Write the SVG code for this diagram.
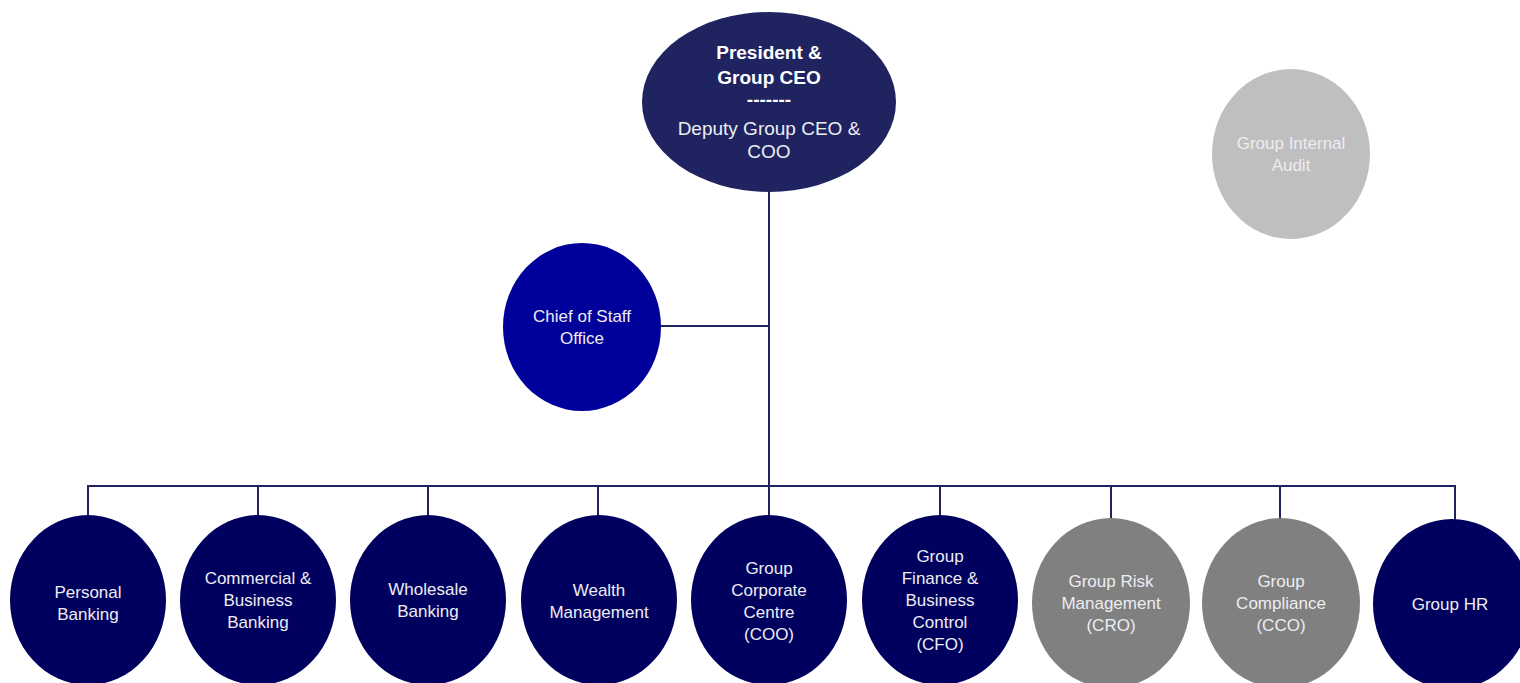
<svg xmlns="http://www.w3.org/2000/svg" width="1520" height="683" viewBox="0 0 1520 683">
<style>
.t{font-family:"Liberation Sans",Arial,sans-serif;font-size:17px;fill:#EDEDF2;text-anchor:middle}
.b{font-weight:bold;font-size:19px;fill:#FFFFFF}
.h{font-size:19px}
.dk{fill:#00005E}
.gr{fill:#808080}
.ln{stroke:#1F2461;stroke-width:2;fill:none}
</style>
<rect width="1520" height="683" fill="#FFFFFF"/>
<g id="connectors">
<path class="ln" d="M769 192V486M661 326H769M88 486H1455M88 485V517M258 485V517M428 485V517M598 485V517M769 485V517M940 485V517M1111 485V519M1280 485V519M1455 485V520"/>
</g>
<g id="ceo">
<ellipse cx="769" cy="102" rx="127" ry="90" fill="#1F2461"/>
<text class="t b" x="769" y="59">President &amp;</text>
<text class="t b" x="769" y="84">Group CEO</text>
<text class="t b" x="769" y="106">-------</text>
<text class="t h" x="769" y="135">Deputy Group CEO &amp;</text>
<text class="t h" x="769" y="158">COO</text>
</g>
<g id="audit">
<ellipse cx="1291" cy="154" rx="79" ry="85" fill="#BFBFBF"/>
<text class="t" x="1291" y="149" fill="#F2F2F2">Group Internal</text>
<text class="t" x="1291" y="171">Audit</text>
</g>
<g id="chief-of-staff">
<ellipse cx="582" cy="327" rx="79" ry="84" fill="#00009A"/>
<text class="t" x="582" y="322">Chief of Staff</text>
<text class="t" x="582" y="344">Office</text>
</g>
<g id="personal-banking">
<ellipse class="dk" cx="88" cy="600" rx="78" ry="85"/>
<text class="t" x="88" y="598">Personal</text>
<text class="t" x="88" y="620">Banking</text>
</g>
<g id="commercial-banking">
<ellipse class="dk" cx="258" cy="600" rx="78" ry="85"/>
<text class="t" x="258" y="584">Commercial &amp;</text>
<text class="t" x="258" y="606">Business</text>
<text class="t" x="258" y="628">Banking</text>
</g>
<g id="wholesale-banking">
<ellipse class="dk" cx="428" cy="600" rx="78" ry="85"/>
<text class="t" x="428" y="595">Wholesale</text>
<text class="t" x="428" y="617">Banking</text>
</g>
<g id="wealth-management">
<ellipse class="dk" cx="599" cy="600" rx="78" ry="85"/>
<text class="t" x="599" y="596">Wealth</text>
<text class="t" x="599" y="618">Management</text>
</g>
<g id="corporate-centre">
<ellipse class="dk" cx="769" cy="600" rx="78" ry="85"/>
<text class="t" x="769" y="574">Group</text>
<text class="t" x="769" y="596">Corporate</text>
<text class="t" x="769" y="618">Centre</text>
<text class="t" x="769" y="640">(COO)</text>
</g>
<g id="finance">
<ellipse class="dk" cx="940" cy="600" rx="78" ry="85"/>
<text class="t" x="940" y="562">Group</text>
<text class="t" x="940" y="584">Finance &amp;</text>
<text class="t" x="940" y="606">Business</text>
<text class="t" x="940" y="628">Control</text>
<text class="t" x="940" y="650">(CFO)</text>
</g>
<g id="risk">
<ellipse class="gr" cx="1111" cy="603" rx="79" ry="85"/>
<text class="t" x="1111" y="587">Group Risk</text>
<text class="t" x="1111" y="609">Management</text>
<text class="t" x="1111" y="631">(CRO)</text>
</g>
<g id="compliance">
<ellipse class="gr" cx="1281" cy="603" rx="79" ry="85"/>
<text class="t" x="1281" y="587">Group</text>
<text class="t" x="1281" y="609">Compliance</text>
<text class="t" x="1281" y="631">(CCO)</text>
</g>
<g id="hr">
<ellipse class="dk" cx="1452" cy="604" rx="79" ry="85"/>
<text class="t" x="1450" y="610">Group HR</text>
</g>
</svg>
